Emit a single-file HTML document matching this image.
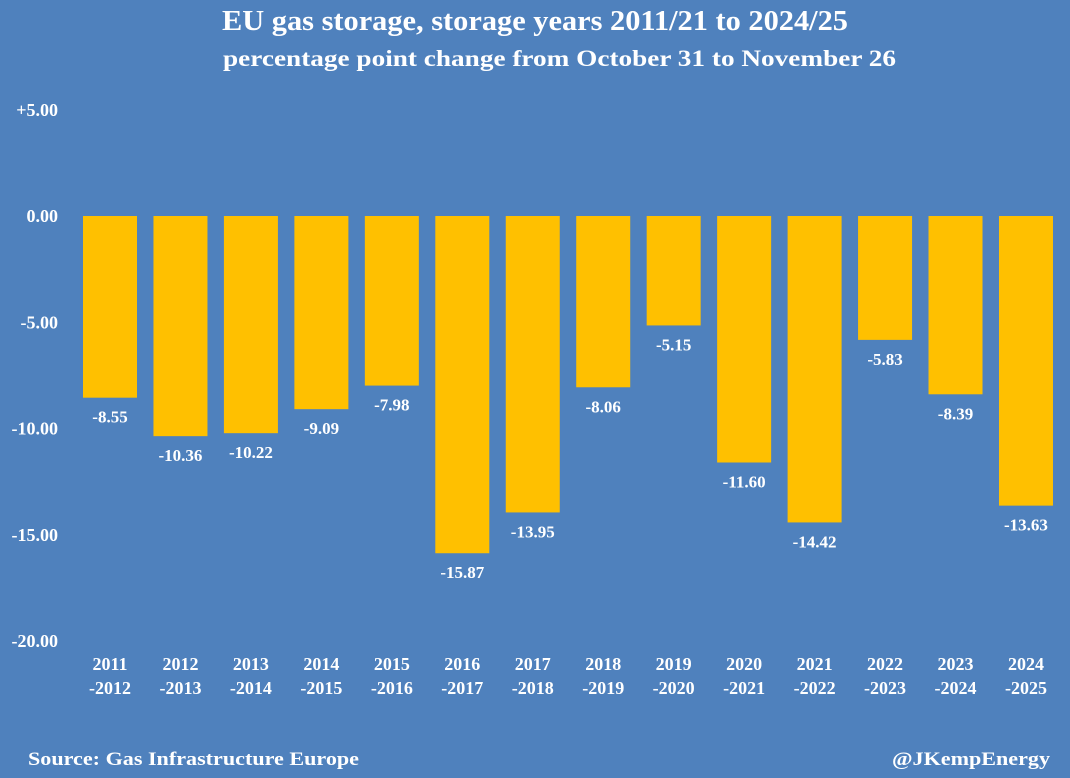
<!DOCTYPE html>
<html><head><meta charset="utf-8"><style>
html,body{margin:0;padding:0;background:#4f81bd;}
svg{display:block;font-family:"Liberation Serif",serif;font-weight:bold;fill:#fff;}
</style></head><body>
<svg id="c" width="1070" height="778" xmlns="http://www.w3.org/2000/svg">
<rect width="1070" height="778" fill="#4f81bd"/>
<text x="222" y="30" font-size="29" textLength="626" lengthAdjust="spacingAndGlyphs" fill="#fff">EU gas storage, storage years 2011/21 to 2024/25</text>
<text x="223" y="66" font-size="23" textLength="673" lengthAdjust="spacingAndGlyphs" fill="#fff">percentage point change from October 31 to November 26</text>
<text x="28" y="765" font-size="19" textLength="331" lengthAdjust="spacingAndGlyphs" fill="#fff">Source: Gas Infrastructure Europe</text>
<text x="892" y="765" font-size="19" textLength="158" lengthAdjust="spacingAndGlyphs" fill="#fff">@JKempEnergy</text>
<g id="g"></g>
</svg>
<script>
const categoriesTop=["2011","2012","2013","2014","2015","2016","2017","2018","2019","2020","2021","2022","2023","2024"];
const categoriesBottom=["-2012","-2013","-2014","-2015","-2016","-2017","-2018","-2019","-2020","-2021","-2022","-2023","-2024","-2025"];
const values=[-8.55,-10.36,-10.22,-9.09,-7.98,-15.87,-13.95,-8.06,-5.15,-11.60,-14.42,-5.83,-8.39,-13.63];
const ticks=[5,0,-5,-10,-15,-20];
const tickLabels=["+5.00","0.00","-5.00","-10.00","-15.00","-20.00"];
const NS="http://www.w3.org/2000/svg";
const g=document.getElementById('g');
function y(v){return 216-v*21.25;}
function x(i){return 83+i*70.46;}
const bw=54;
function mk(t,a){const e=document.createElementNS(NS,t);for(const k in a)e.setAttribute(k,a[k]);g.appendChild(e);return e;}
ticks.forEach((t,i)=>{
 const e=mk('text',{x:58,y:y(t)+6,'text-anchor':'end','font-size':18});
 e.textContent=tickLabels[i];
 
 
});
values.forEach((v,i)=>{
 const top=Math.min(y(0),y(v)),h=Math.abs(y(v)-y(0));
 const r=mk('rect',{x:x(i),y:top,width:bw,height:h,fill:'#ffc000'});
 
 
 const l=mk('text',{x:x(i)+bw/2,y:y(v)+25,'text-anchor':'middle','font-size':17});
 l.textContent=v.toFixed(2);
 
 
 const c1=mk('text',{x:x(i)+bw/2,y:670,'text-anchor':'middle','font-size':18});
 c1.textContent=categoriesTop[i];
 
 
 const c2=mk('text',{x:x(i)+bw/2,y:694,'text-anchor':'middle','font-size':18});
 c2.textContent=categoriesBottom[i];
 
 
});
</script>
</body></html>
